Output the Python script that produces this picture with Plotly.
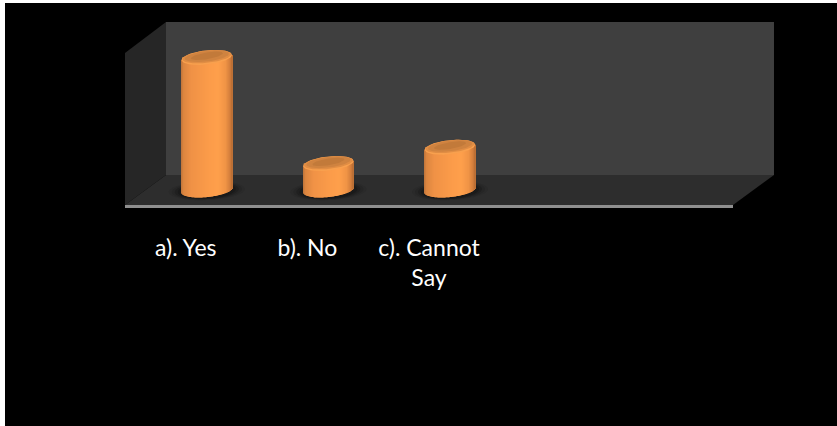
import numpy as np
import plotly.graph_objects as go

categories = ["a). Yes", "b). No", "c). Cannot<br>Say"]
values = [65, 13, 21]
axis_max = 75
slots = 5

W, H = 837, 426
# plot box of the front plane, in pixels
LEFT, RIGHT = 125, 733
ZERO_Y, TOP_Y = 190, 37
BOTTOM_Y = 215                         # axis runs a little below zero so cylinder bases show
DEPTH_X = 21
PX_X = slots / (RIGHT - LEFT)          # x units per pixel
PX_Y = axis_max / (ZERO_Y - TOP_Y)     # y units per pixel
BAR_W = 50.5 * PX_X
ELL_B, ELL_TILT = 7.07, 2.5


def px(x):
    return x / W


def py(y):
    return 1 - y / H


def poly(points):
    return "M" + " L".join(f"{px(a):.5f},{py(b):.5f}" for a, b in points) + " Z"


def wall(points, color):
    return dict(type="path", xref="paper", yref="paper", path=poly(points),
                fillcolor=color, line=dict(width=0), layer="below")


def ellipse(cx, cy, a_px, b_px, tilt_px):
    t = np.linspace(0, 2 * np.pi, 73)
    xs = cx + a_px * PX_X * np.cos(t)
    ys = cy + (tilt_px * np.cos(t) + b_px * np.sin(t)) * PX_Y
    return xs, ys


shapes = [
    wall([(166, 22), (774, 22), (774, 175), (166, 175)], "#3f3f3f"),
    wall([(125, 53), (166, 22), (166, 175), (125, 205)], "#262626"),
    wall([(125, 205), (166, 175), (774, 175), (733, 205)], "#2d2d2d"),
    wall([(125, 205), (733, 205), (733, 208), (125, 208)], "#8f8f8f"),
    wall([(0, 0), (5, 0), (5, H), (0, H)], "#ffffff"),
    wall([(0, 0), (W, 0), (W, 3), (0, 3)], "#ffffff"),
]

centers = [i + DEPTH_X * PX_X for i in range(len(values))]

# soft floor shadows
for c in centers:
    for a_px, b_px, col in [(38, 9.5, "#2a2a2a"), (35, 9, "#262626"), (32, 8.5, "#202020"), (29, 8, "#1a1a1a")]:
        xs, ys = ellipse(c, -0.6 * PX_Y, a_px, b_px, 1.5)
        shapes.append(dict(type="path", xref="x", yref="y", layer="below", line=dict(width=0), fillcolor=col,
                           path="M" + " L".join(f"{a:.4f},{b:.4f}" for a, b in zip(xs, ys)) + " Z"))


def shade(u):
    stops_u = [-1.0, -0.9, -0.6, 0.1, 0.45, 0.75, 0.92, 1.0]
    stops_r = [190, 220, 240, 252, 255, 240, 212, 182]
    stops_g = [116, 134, 146, 156, 160, 148, 126, 108]
    stops_b = [58, 64, 70, 74, 76, 70, 60, 52]
    return "rgb(%d,%d,%d)" % (np.interp(u, stops_u, stops_r), np.interp(u, stops_u, stops_g), np.interp(u, stops_u, stops_b))


fig = go.Figure()

# cylinder bodies: one base bar plus thin shaded staves
fig.add_trace(go.Bar(x=centers, y=values, width=BAR_W * 0.98, marker=dict(color="#f0964a", line=dict(width=0)),
                     hoverinfo="skip", showlegend=False))

n = 51
us = np.linspace(-1, 1, n + 1)
us = (us[:-1] + us[1:]) / 2
sx, sb, sh, sc = [], [], [], []
for c, v in zip(centers, values):
    for u in us:
        low = (ELL_TILT * u - ELL_B * np.sqrt(1 - u * u)) * PX_Y
        top = v + ELL_TILT * u * PX_Y
        sx.append(c + u * BAR_W / 2)
        sb.append(low)
        sh.append(top - low)
        sc.append(shade(u))
fig.add_trace(go.Bar(x=sx, y=sh, base=sb, width=BAR_W / n * 1.08, marker=dict(color=sc, line=dict(width=0)),
                     hoverinfo="skip", showlegend=False))

# cylinder tops: bright rim with darker inner face
for c, v in zip(centers, values):
    for a_px, b_px, dy, col in [(25.2, ELL_B, 0, "#f8a04e"), (24.5, 6.2, 0.7, "#e08d44"), (22, 5.3, 1.2, "#cf8340"), (16, 3.4, 1.6, "#c27a3a")]:
        xs, ys = ellipse(c, v + dy * PX_Y, a_px, b_px, ELL_TILT)
        fig.add_trace(go.Scatter(x=xs, y=ys, mode="lines", fill="toself", fillcolor=col, line=dict(width=0),
                                 hoverinfo="skip", showlegend=False))

fig.update_layout(
    width=W, height=H, autosize=False,
    margin=dict(l=0, r=0, t=0, b=0),
    paper_bgcolor="#000000", plot_bgcolor="rgba(0,0,0,0)",
    barmode="overlay", showlegend=False, shapes=shapes,
    font=dict(family="Lato, Open Sans, sans-serif", color="#ffffff", size=23),
    xaxis=dict(domain=[px(LEFT), px(RIGHT)], range=[-0.5, slots - 0.5], tickmode="array",
               tickvals=list(range(len(categories))), ticktext=categories, showgrid=False, zeroline=False,
               showline=False, ticks="", ticklabelstandoff=17, tickfont=dict(color="#ffffff", size=23),
               anchor="y"),
    yaxis=dict(domain=[py(BOTTOM_Y), py(TOP_Y)], range=[-(BOTTOM_Y - ZERO_Y) * PX_Y, axis_max], visible=False),
)

fig.write_html("out.html", config={"displayModeBar": False},
               post_script="document.body.style.margin='0';document.body.style.background='#000';")
